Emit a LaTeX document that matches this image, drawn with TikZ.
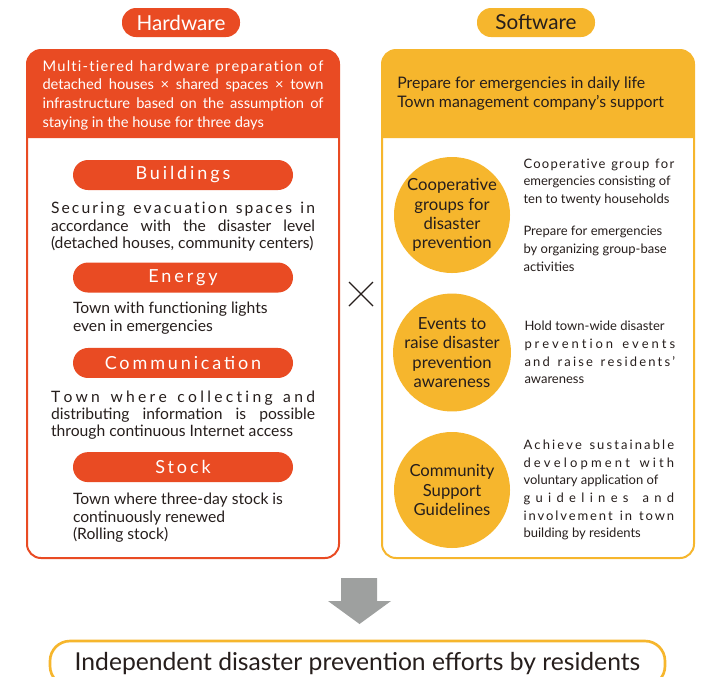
\documentclass[tikz,border=0pt]{standalone}
\usepackage{fontspec}
\setmainfont{Lato}
\usetikzlibrary{positioning}

\definecolor{hwred}{RGB}{233,75,35}
\definecolor{swyellow}{RGB}{246,182,45}
\definecolor{inkdark}{RGB}{38,30,28}
\definecolor{arrowgray}{RGB}{158,160,159}

\makeatletter
\def\lsp@first#1{#1\lsp@next}
\def\lsp@next#1{\ifx#1\@nil\else\hfil#1\expandafter\lsp@next\fi}
\newcommand\lspread[2]{\makebox[#1][s]{\lsp@first#2\@nil}}
\makeatother

\begin{document}
\begin{tikzpicture}[
    x=0.75pt, y=-0.75pt,
    font=\fontsize{11.75}{13}\selectfont,
    tag/.style={rounded corners=10.5pt, minimum width=88.5pt, minimum height=21.75pt, inner sep=0pt, font=\fontsize{15.5}{15.5}\selectfont},
    item/.style={fill=hwred, text=white, rounded corners=11.25pt, minimum width=165pt, minimum height=22.5pt, inner sep=0pt, font=\fontsize{13.5}{13.5}\selectfont\addfontfeatures{LetterSpace=16}},
    itemtext/.style={text=inkdark, align=left, inner sep=0pt},
    topic/.style={circle, fill=swyellow, minimum size=87pt, inner sep=0pt, align=center, text=inkdark, font=\fontsize{12.5}{14.5}\selectfont},
    topictext/.style={text=inkdark, align=left, inner sep=0pt, font=\fontsize{9.75}{13.2}\selectfont}
]
\useasboundingbox (0,0) rectangle (702,676);

% hardware side
\draw[hwred, line width=1.5pt, rounded corners=10.5pt, fill=white] (27,50) rectangle (339,558);
\fill[hwred] (27,138) [rounded corners=10.5pt] -- (27,50) -- (339,50) [sharp corners] -- (339,138) -- cycle;
\node[tag, fill=hwred, text=white] (hw) at (181,22.5) {Hardware};
\node[text=white, align=left, inner sep=0pt, font=\fontsize{11}{14}\selectfont] (hwhead) at (183,95)
    {\lspread{210.75pt}{Multi-tiered~hardware~preparation~of}\\
     \makebox[210.75pt][s]{detached houses × shared spaces × town}\\
     \makebox[210.75pt][s]{infrastructure based on the assumption of}\\
     staying in the house for three days};

\node[item] (buildings) at (183,175) {Buildings};
\node[itemtext, below=9pt of buildings] (bldgtext)
    {\lspread{198pt}{Securing~evacuation~spaces~in}\\
     \makebox[198pt][s]{accordance with the disaster level}\\
     (detached houses, community centers)};
\node[item, below=8pt of bldgtext] (energy) {Energy};
\node[itemtext, below=7pt of energy.south west, anchor=north west] (energytext)
    {Town with functioning lights\\ even in emergencies};
\node[item, below=10pt of energytext.south west, anchor=north west] (comm) {Communication};
\node[itemtext, below=9pt of comm] (commtext)
    {\lspread{198pt}{Town~where~collecting~and}\\
     \makebox[198pt][s]{distributing information is possible}\\
     through continuous Internet access};
\node[item, below=9pt of commtext] (stock) {Stock};
\node[itemtext, below=8pt of stock.south west, anchor=north west] (stocktext)
    {Town where three-day stock is\\ continuously renewed\\ (Rolling stock)};

% software side
\draw[swyellow, line width=1.5pt, rounded corners=10.5pt, fill=white] (382,50) rectangle (694,558);
\fill[swyellow] (382,138) [rounded corners=10.5pt] -- (382,50) -- (694,50) [sharp corners] -- (694,138) -- cycle;
\node[tag, fill=swyellow, text=inkdark] (sw) at (536,22.5) {Software};
\node[text=inkdark, align=left, inner sep=0pt, anchor=west, font=\fontsize{11.9}{14.25}\selectfont] (swhead) at (397,94)
    {Prepare for emergencies in daily life\\ Town management company’s support};

\node[topic] (groups) at (452,215) {Cooperative\\ groups for\\ disaster\\ prevention};
\node[topic, below=15pt of groups] (events) {Events to\\ raise disaster\\ prevention\\ awareness};
\node[topic, below=15pt of events] (guide) {Community\\ Support\\ Guidelines};

\node[topictext, right=9.75pt of groups] (groupstext)
    {\lspread{113pt}{Cooperative~group~for}\\
     emergencies consisting of\\
     ten to twenty households\\[11pt]
     Prepare for emergencies\\
     by organizing group-base\\
     activities};
\node[topictext, right=9.75pt of events] (eventstext)
    {Hold town-wide disaster\\
     \lspread{113pt}{prevention~events}\\
     \lspread{113pt}{and~raise~residents’}\\
     awareness};
\node[topictext, right=9.75pt of guide] (guidetext)
    {\lspread{113pt}{Achieve~sustainable}\\
     \lspread{113pt}{development~with}\\
     voluntary application of\\
     \lspread{113pt}{guidelines~and}\\
     \lspread{113pt}{involvement~in~town}\\
     building by residents};

\draw[inkdark, line width=1pt] (349,282) -- (373,306) (349,306) -- (373,282);

% result
\fill[arrowgray] (341,578) -- (377,578) -- (377,601) -- (391,601) -- (359.5,624) -- (328,601) -- (341,601) -- cycle;
\node[draw=swyellow, line width=2pt, fill=white, rounded corners=15pt, minimum width=461.25pt, minimum height=33.75pt,
      text=inkdark, font=\fontsize{18.5}{18.5}\selectfont] (result) at (357.5,663.5)
    {Independent disaster prevention efforts by residents};
\end{tikzpicture}
\end{document}
